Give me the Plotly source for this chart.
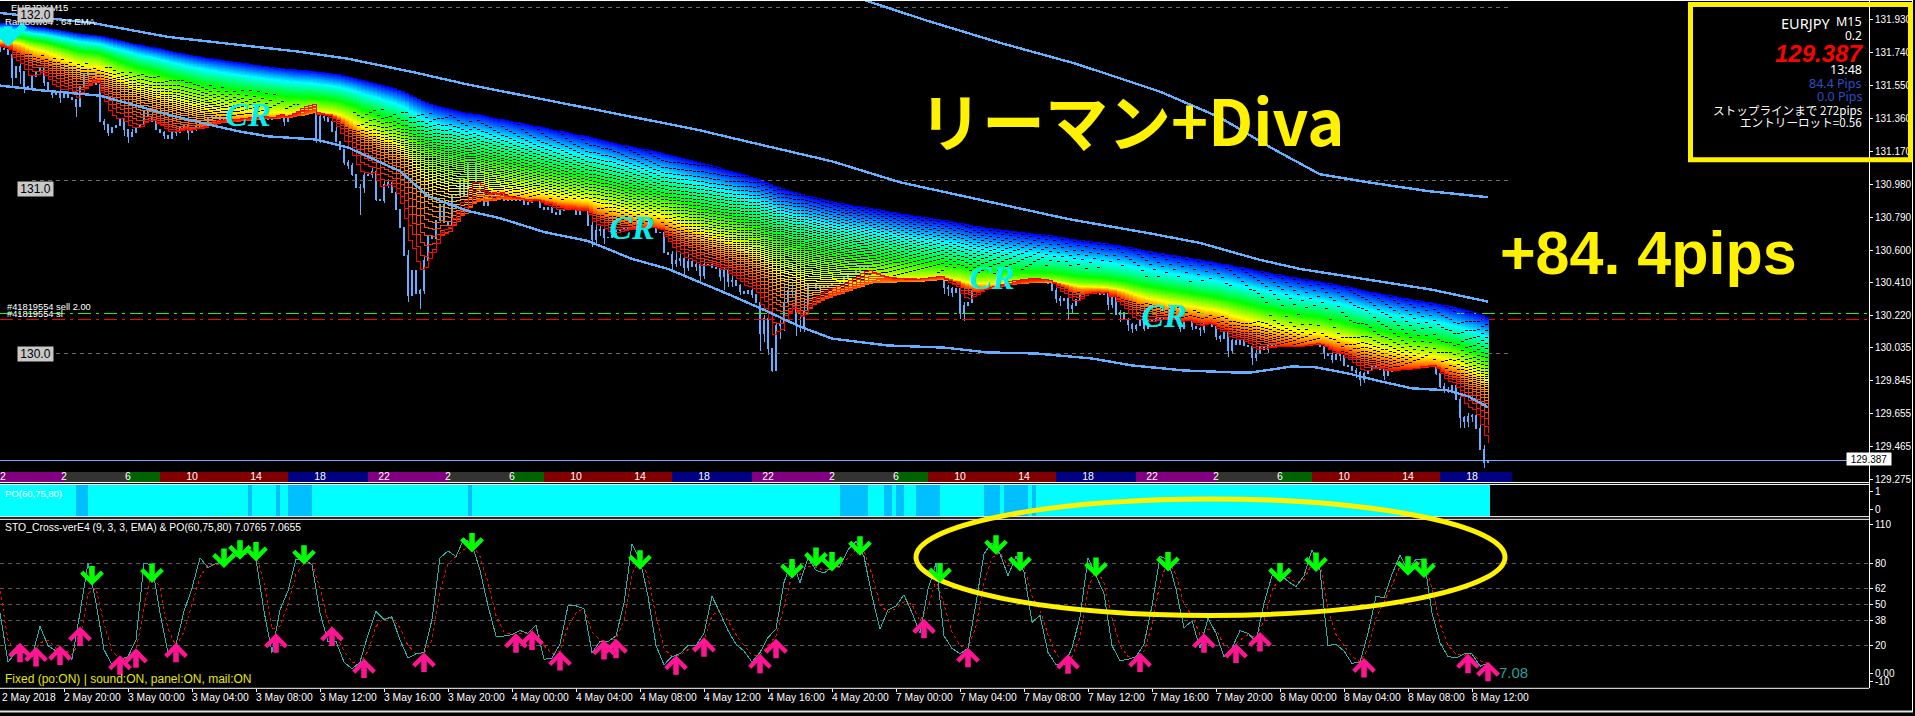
import plotly.graph_objects as go
import colorsys

# ---- values ----
close = [
131.765,131.755,131.727,131.593,131.660,131.631,131.545,131.535,131.599,131.631,131.650,131.564,131.522,131.497,131.516,131.478,
131.516,131.478,131.468,131.430,131.545,131.612,131.641,131.641,131.554,131.344,131.325,131.277,131.305,131.319,131.353,131.296,
131.258,131.277,131.305,131.325,131.401,131.372,131.344,131.296,131.277,131.261,131.242,131.277,131.281,131.305,131.319,131.277,
131.305,131.315,131.319,131.325,131.363,131.372,131.369,131.353,131.363,131.353,131.353,131.363,131.363,131.369,131.369,131.372,
131.372,131.369,131.369,131.353,131.372,131.392,131.401,131.344,131.392,131.411,131.440,131.449,131.459,131.459,131.449,131.238,
131.372,131.363,131.344,131.286,131.229,131.181,131.108,131.085,131.037,130.961,130.961,131.028,131.037,131.051,130.894,130.884,
130.980,130.989,130.932,130.836,130.731,130.568,130.338,130.482,130.348,130.367,130.539,130.683,130.664,130.769,130.865,130.760,
130.750,130.913,130.913,131.009,130.913,131.104,131.104,130.989,130.932,130.855,130.894,130.941,130.913,130.941,130.884,130.884,
130.884,130.894,130.884,130.865,130.874,130.894,130.884,130.846,130.836,130.846,130.817,130.807,130.827,130.836,130.840,130.836,
130.807,130.832,130.836,130.744,130.658,130.712,130.721,130.673,130.673,130.683,130.712,130.721,130.725,130.731,130.721,130.731,
130.731,130.737,130.731,130.731,130.702,130.702,130.583,130.577,130.520,130.539,130.549,130.500,130.533,130.507,130.514,130.453,
130.514,130.514,130.500,130.495,130.449,130.482,130.418,130.424,130.396,130.361,130.348,130.367,130.344,130.300,130.118,130.204,
130.032,129.907,130.166,130.175,130.300,130.367,130.367,130.166,130.156,130.252,130.405,130.405,130.376,130.396,130.386,130.396,
130.405,130.405,130.415,130.443,130.463,130.463,130.482,130.500,130.510,130.491,130.453,130.443,130.434,130.424,130.424,130.424,
130.434,130.430,130.424,130.428,130.434,130.424,130.443,130.443,130.453,130.453,130.457,130.453,130.386,130.376,130.357,130.376,
130.233,130.281,130.300,130.367,130.376,130.396,130.405,130.405,130.409,130.415,130.415,130.424,130.434,130.438,130.438,130.438,
130.438,130.438,130.438,130.438,130.415,130.438,130.405,130.367,130.323,130.309,130.319,130.261,130.277,130.313,130.342,130.376,
130.376,130.367,130.363,130.342,130.357,130.284,130.328,130.227,130.242,130.200,130.170,130.150,130.162,130.198,130.150,130.194,
130.194,130.204,130.204,130.204,130.204,130.204,130.204,130.146,130.204,130.204,130.156,130.146,130.143,130.181,130.185,130.156,
130.099,130.089,130.127,130.022,130.079,130.055,130.079,130.047,130.041,129.978,130.003,130.035,130.028,130.051,130.051,130.041,
130.041,130.041,130.041,130.041,130.047,130.051,130.055,130.070,130.066,130.070,130.041,130.003,129.993,129.970,129.997,129.989,
129.932,129.926,129.907,129.894,129.855,129.888,129.907,129.936,129.917,129.913,129.878,129.897,129.907,129.917,129.917,129.913,
129.917,129.917,129.932,129.940,129.940,129.936,129.932,129.888,129.811,129.792,129.786,129.817,129.735,129.633,129.610,129.639,
129.644,129.572,129.447,129.371,129.387]

# (bar, upper wick in pips, lower wick in pips)
wicks = [(0,3,2),(3,0,5),(5,5,7),(6,0,4),(11,3,2),(13,0,2),(15,1,3),(19,0,6),(26,1,3),(27,0,2),(31,1,4),(32,0,4),(33,2,0),
(38,2,0),(41,1,2),(44,0,2),(47,0,4),(49,2,2),(53,1,3),(55,0,2),(69,2,0),(71,0,3),(72,1,0),(79,0,2),(80,1,2),(81,1,2),(84,3,0),
(86,0,2),(87,1,2),(88,2,1),(90,2,16),(91,2,3),(93,2,2),(94,3,1),(96,2,1),(97,2,2),(102,3,4),(105,1,9),(106,2,2),
(148,2,4),(149,3,3),(150,2,3),(151,2,4),(168,2,3),(169,5,2),(170,4,3),(171,2,5),(172,4,2),(174,3,3),(175,1,5),(176,4,2),
(180,2,3),(181,2,8),(182,2,3),(183,3,3),(185,1,2),(188,1,2),(190,15,10),(191,2,5),(192,1,4),(193,0,1),(194,2,0),(195,2,8),
(196,10,4),(197,7,2),(198,4,4),(199,8,6),(200,5,3),(201,6,3),(236,2,4),(237,1,4),(238,1,3),(240,2,3),(241,2,4),
(264,2,3),(265,1,3),(267,1,6),(268,2,3),(277,1,3),(278,2,2),(280,1,4),(282,1,4),(283,1,3),(284,1,2),(286,1,2),(295,1,2),(298,1,2),
(300,1,4),(301,2,2),(304,2,2),(305,1,2),(307,1,4),(308,1,2),(313,1,4),(314,2,2),(317,1,2),(331,1,3),(333,2,2),(335,2,3),(339,1,3),
(340,1,4),(341,1,2),(346,1,3),(359,1,1),(360,2,1),(361,2,2),(362,2,1),(364,3,0),(365,2,6),(366,1,4),(367,2,3),(368,1,3),(370,3,0),(371,3,3)]

ema_seed = [131.91, 131.78]
ema_periods = list(range(6, 198, 3))

upper_bars = [0,23,42,58,75,87,104,117,127,174,192,208,225,242,252,267,287,300,315,325,344,358,372]
upper_vals = [131.968,131.911,131.830,131.790,131.744,131.704,131.623,131.555,131.509,131.296,131.198,131.112,130.991,130.905,130.853,130.779,130.698,130.641,130.543,130.491,130.422,130.371,130.302]
lower_bars = [0,11,22,25,33,42,52,60,67,79,87,100,107,117,125,136,147,158,167,183,192,200,208,222,236,247,259,273,283,296,308,313,323,329,337,344,353,362,367,372]
lower_vals = [131.549,131.520,131.497,131.491,131.440,131.382,131.325,131.284,131.256,131.238,131.192,131.055,130.911,130.825,130.784,130.704,130.652,130.549,130.491,130.336,130.244,130.158,130.089,130.049,130.037,130.009,130.003,129.974,129.934,129.905,129.894,129.894,129.928,129.923,129.888,129.848,129.802,129.790,129.756,129.693]
third_bars = [216,232,250,269,290,305,318,330,342,357,372]
third_vals = [132.043,131.922,131.796,131.675,131.514,131.365,131.187,131.037,130.991,130.940,130.905]

round_levels = [132.0, 131.0, 130.0]
buy_level = 130.233
stop_level = 130.198
last_price = 129.387

price_ticks = [131.93,131.74,131.55,131.36,131.17,130.98,130.79,130.60,130.41,130.22,130.035,129.845,129.655,129.465,129.275]

time_bars = [0,16,32,48,64,80,96,112,128,144,160,176,192,208,224,240,256,272,288,304,320,336,352,368]
time_labels = ["2 May 2018","2 May 20:00","3 May 00:00","3 May 04:00","3 May 08:00","3 May 12:00","3 May 16:00","3 May 20:00",
"4 May 00:00","4 May 04:00","4 May 08:00","4 May 12:00","4 May 16:00","4 May 20:00","7 May 00:00","7 May 04:00","7 May 08:00",
"7 May 12:00","7 May 16:00","7 May 20:00","8 May 00:00","8 May 04:00","8 May 08:00","8 May 12:00"]

session_start = [0,16,32,40,72,92,112,128,136,168,188,208,224,232,264,284,304,320,328,360]
session_end   = [16,32,40,72,92,112,128,136,168,188,208,224,232,264,284,304,320,328,360,378]
session_color = ["#800080","#333333","#006400","#800000","#000080"]*4
hour_labels = ["22","2","6","10","14","18","22","2","6","10","14","18","22","2","6","10","14","18","22","2","6","10","14","18"]

po_blue_start = [19,62,69,72,117,210,221,224,229,246,251,258]
po_blue_end   = [22,63,70,78,118,217,223,226,235,250,257,259]
po_last_bar = 372

sto_main = [44,8,15,15,12,34,20,16,16,10,44,80,51,17,6,10,12,24,80,79,44,15,21,45,62,84,77,80,81,87,84,90,83,45,15,46,60,83,83,79,44,23,23,8,3,8,28,45,39,41,24,11,14,15,39,84,89,85,98,94,75,49,27,27,
28,31,29,35,10,11,21,49,49,47,15,23,23,27,51,94,83,56,20,6,12,14,20,20,29,56,44,31,21,16,8,15,26,32,66,83,66,84,75,73,77,78,90,96,85,56,32,46,49,57,44,29,61,80,27,18,14,18,51,87,95,87,
71,85,74,37,42,15,6,6,18,41,84,71,58,20,9,10,12,21,49,85,83,61,33,38,18,40,29,12,18,31,29,23,51,71,72,67,63,71,90,75,20,21,16,7,8,29,56,55,72,86,75,83,83,44,22,12,11,14,14,5,7]
sto_signal = [60,24,14,15,14,22,24,18,17,13,24,58,62,36,16,10,11,16,48,74,62,32,20,30,50,70,79,79,80,84,85,87,87,66,32,34,50,72,80,80,62,38,28,16,8,7,16,34,40,40,33,20,14,14,24,60,80,85,90,94,85,66,42,30,
28,29,29,32,20,14,16,34,44,47,30,24,23,25,38,72,84,70,42,18,12,13,17,19,24,42,46,38,28,20,13,13,20,27,48,72,72,78,77,75,76,77,84,90,89,72,50,44,47,52,50,38,48,68,50,30,20,18,34,66,84,88,
78,80,78,56,46,28,14,8,12,26,62,76,66,40,20,12,11,16,34,66,82,72,50,42,28,32,32,20,18,24,28,26,38,60,70,70,66,68,80,82,46,28,20,12,8,18,40,52,64,78,80,80,82,62,36,20,14,13,14,9,7]
sto_levels = [80,62,50,38,20]
sto_ticks = [108,80,62,50,38,20,0,-6]
sto_tick_text = ["110","80","62","50","38","20","0.00","-10"]

up_bars = [5,9,15,20,30,34,44,69,83,91,106,129,133,140,151,154,169,176,190,194,231,242,267,285,301,309,315,341,367,372]
up_vals = [22,19,20,34,13,18,22,29,34,10.5,15,29,31,16,24,25,13,26,14,25,39.5,18.5,13.6,15,29,21.6,30,11,14,8.3]
down_bars = [23,38,56,60,64,76,118,160,198,204,208,215,235,249,255,274,292,320,329,352,356]
down_vals = [63.8,65.7,76.6,82.6,81.4,79,88,75.4,68.9,77.3,74,85.6,66,86.3,74,70,74,66,73.7,71,69.3]

logo_bars = [62,158,248,291]
logo_vals = [131.365,130.715,130.425,130.205]

# ---- canvas ----
W, H = 1915, 716
PLOT_R = 1869
BAR_PX = 4.0
main_top, main_bot = 1.0, 484.0
po_top, po_bot = 486.5, 518.5
sto_top, sto_bot = 521.7, 690.7
PRICE_PER_PX = 1/174.0
price_at = lambda y: 132.043 - y*PRICE_PER_PX

def px(x): return x/W
def py(y): return 1-y/H
xlim = [0, PLOT_R/BAR_PX]
BLUE = "#66AEFF"
SMALL = "Liberation Sans"

fig = go.Figure()

# session strip
sess_lo, sess_hi = price_at(484), price_at(474)
fig.add_trace(go.Bar(
    x=[(a+b)/2 for a, b in zip(session_start, session_end)],
    width=[b-a for a, b in zip(session_start, session_end)],
    y=[sess_hi-sess_lo]*len(session_start), base=[sess_lo]*len(session_start),
    marker=dict(color=session_color, line=dict(width=0)), hoverinfo="skip"))
fig.add_trace(go.Scatter(x=time_bars, y=[(sess_hi+sess_lo)/2]*len(time_bars), mode="text", text=hour_labels,
    textfont=dict(color="white", size=10.5, family=SMALL), hoverinfo="skip"))

# round levels / order levels (behind the rainbow)
guide = dict(color="#6a6a6a", width=1, dash="4px,4px")
for lv in round_levels:
    fig.add_trace(go.Scatter(x=[8, 377], y=[lv, lv], mode="lines", line=guide, hoverinfo="skip"))
order_dash = "13px,5px,3px,5px"
fig.add_trace(go.Scatter(x=xlim, y=[buy_level]*2, mode="lines", line=dict(color="#22ee22", width=1, dash=order_dash), hoverinfo="skip"))
fig.add_trace(go.Scatter(x=xlim, y=[stop_level]*2, mode="lines", line=dict(color="#ff0000", width=1, dash=order_dash), hoverinfo="skip"))

# candles (open = previous close)
opens = [close[0]+0.01]+close[:-1]
high = [max(c, o) for c, o in zip(close, opens)]
low = [min(c, o) for c, o in zip(close, opens)]
for b, u, d in wicks:
    high[b] += u*0.01
    low[b] -= d*0.01
fig.add_trace(go.Candlestick(
    x=list(range(len(close))), open=opens, high=high, low=low, close=close,
    increasing=dict(line=dict(color=BLUE, width=1), fillcolor="#000000"),
    decreasing=dict(line=dict(color=BLUE, width=1), fillcolor="#ffffff"),
    whiskerwidth=0, hoverinfo="skip"))

# Rainbow64: the indicator's EMAs of the close series above
for k, p in reversed(list(enumerate(ema_periods))):
    a = 2/(p+1)
    frac = k/(len(ema_periods)-1)
    v = ema_seed[1] + (ema_seed[0]-ema_seed[1])*frac
    ys = []
    for c in close:
        v = v + a*(c-v)
        ys.append(v)
    r, g, b = colorsys.hsv_to_rgb(frac**0.92*240/360, 1, 1)
    fig.add_trace(go.Scatter(x=list(range(len(close))), y=ys, mode="lines",
        line=dict(color=f"rgb({int(r*255)},{int(g*255)},{int(b*255)})", width=1, shape="hv"), hoverinfo="skip"))

# envelopes
for bx, vy in ((upper_bars, upper_vals), (lower_bars, lower_vals), (third_bars, third_vals)):
    fig.add_trace(go.Scatter(x=bx, y=vy, mode="lines", line=dict(color=BLUE, width=2.4), hoverinfo="skip"))

fig.add_trace(go.Scatter(x=xlim, y=[last_price]*2, mode="lines", line=dict(color=BLUE, width=1), hoverinfo="skip"))

fig.add_trace(go.Scatter(x=logo_bars, y=logo_vals, mode="text", text=["CR"]*len(logo_bars),
    textfont=dict(color="#00f0f0", size=34, family="Liberation Serif", style="italic", weight="bold"), hoverinfo="skip"))

# PO strip
po_range = [-0.37, 1.37]
po_span = po_range[1]-po_range[0]
fig.add_trace(go.Bar(x=[po_last_bar/2+0.25], width=[po_last_bar+0.5], y=[po_span], base=[po_range[0]],
    marker=dict(color="#00FFFF", line=dict(width=0)), yaxis="y2", hoverinfo="skip"))
fig.add_trace(go.Bar(x=[(a+b)/2 for a, b in zip(po_blue_start, po_blue_end)], width=[b-a for a, b in zip(po_blue_start, po_blue_end)],
    y=[po_span]*len(po_blue_start), base=[po_range[0]]*len(po_blue_start),
    marker=dict(color="#00BFFF", line=dict(width=0)), yaxis="y2", hoverinfo="skip"))

# STO panel
sto_x = list(range(0, 2*len(sto_main), 2))
for lv in sto_levels:
    fig.add_trace(go.Scatter(x=xlim, y=[lv, lv], mode="lines", yaxis="y3", line=dict(color="#5a5a5a", width=1, dash="4px,4px"), hoverinfo="skip"))
fig.add_trace(go.Scatter(x=sto_x, y=sto_signal, mode="lines", yaxis="y3", line=dict(color="#ff0000", width=1, dash="3px,3px"), hoverinfo="skip"))
fig.add_trace(go.Scatter(x=sto_x, y=sto_main, mode="lines", yaxis="y3", line=dict(color="#27B3AC", width=1), hoverinfo="skip"))

ann = []
def T(x, y, s, size=10, color="white", anchor="left", family=SMALL, **kw):
    ann.append(dict(x=px(x), y=py(y), xref="paper", yref="paper", text=s, showarrow=False, xanchor=anchor, yanchor="middle",
                    font=dict(size=size, color=color, family=family), **kw))

# arrows on stochastic
for b, v in zip(up_bars, up_vals):
    ann.append(dict(x=b, y=v, xref="x", yref="y3", ax=0, ay=21, axref="pixel", ayref="pixel", text="", showarrow=True,
                    arrowhead=4, arrowwidth=5.5, arrowsize=0.72, arrowcolor="#FF1493"))
for b, v in zip(down_bars, down_vals):
    ann.append(dict(x=b, y=v, xref="x", yref="y3", ax=0, ay=-21, axref="pixel", ayref="pixel", text="", showarrow=True,
                    arrowhead=4, arrowwidth=5.5, arrowsize=0.72, arrowcolor="#00FF00"))
ann.append(dict(x=2, y=price_at(47), xref="x", yref="y", ax=0, ay=-22, text="", showarrow=True, arrowhead=4, arrowwidth=8, arrowsize=0.8, arrowcolor="#00F0F0"))
ann.append(dict(x=373, y=price_at(4), xref="x", yref="y", ax=0, ay=-3, text="", showarrow=True, arrowhead=2, arrowwidth=3, arrowsize=1, arrowcolor="#00C8F0"))

# time labels
for b, s in zip(time_bars, time_labels):
    T(b*BAR_PX-2 if b else 0, 700.5, s, 10.3)

T(70, 8, "EURJPY,M15", 9.5, anchor="right")
T(3, 22, "Rainbow64 : 64 EMA", 9.6)
for lv in round_levels:
    ann.append(dict(x=px(16.5), y=py((132.043-lv)/PRICE_PER_PX), xref="paper", yref="paper", text=f"{lv:.1f}", showarrow=False,
                    bgcolor="#C8C8C8", width=33, height=12, font=dict(size=12, color="black", family=SMALL)))
T(5, 308, "#41819554 sell 2.00", 9.3)
T(5, 315, "#41819554 sl", 9.3)
T(3, 496, "PO(60,75,80)", 9.5)
T(3, 530, "STO_Cross-verE4 (9, 3, 3, EMA) & PO(60,75,80) 7.0765 7.0655", 10.4)
T(3, 682, "Fixed (po:ON) | sound:ON, panel:ON, mail:ON", 12, color="#E6E600")
T(1497, 675, "7.08", 15, color="#27A09A")
ann.append(dict(x=px(1891.5), y=py(461.3), xref="paper", yref="paper", text="129.387", showarrow=False, bgcolor="white", width=42, height=10,
                font=dict(size=10, color="black", family=SMALL)))

# headline texts
T(917, 119, "リーマン+Diva", 63, color="#FFF200", family="Noto Sans CJK JP")
ann[-1]["font"]["weight"] = "bold"
T(1498, 254, "+84. 4pips", 61, color="#FFF200", family=SMALL)
ann[-1]["font"]["weight"] = "bold"

# info panel
jp = "Noto Sans CJK JP, Noto Sans"
T(1832, 23, "EURJPY", 14.5, anchor="right", family="Noto Sans")
T(1864, 22, "M15", 12.5, anchor="right", family="Noto Sans")
T(1864, 36, "0.2", 12, anchor="right", family="Noto Sans")
T(1865, 54, "<b><i>129.387</i></b>", 24, color="#FF0000", anchor="right", family="Liberation Sans")
T(1864, 70, "13:48", 12.5, anchor="right", family="Noto Sans")
T(1864, 84, "84.4 Pips", 12.5, color="#2A4FC8", anchor="right", family="Noto Sans")
T(1864, 97, "0.0 Pips", 12.5, color="#2A4FC8", anchor="right", family="Noto Sans")
T(1864, 110, "ストップラインまで 272pips", 11.6, anchor="right", family=jp)
T(1864, 123, "エントリーロット=0.56", 11.6, anchor="right", family=jp)

def hline(y, x0=0, x1=PLOT_R, color="white", w=1):
    return dict(type="line", xref="paper", yref="paper", x0=px(x0), x1=px(x1), y0=py(y), y1=py(y), line=dict(color=color, width=w))
def vline(x, y0=0, y1=H, color="white", w=1):
    return dict(type="line", xref="paper", yref="paper", x0=px(x), x1=px(x), y0=py(y0), y1=py(y1), line=dict(color=color, width=w))

shapes = [hline(0.5, 0, 1913), hline(484.5), hline(486.5), hline(518.8), hline(521.5), hline(691.2),
          vline(1869.5, 0, 691), vline(1912.5, 0, 714), hline(714.5, 0, 1913, "#e0e0e0", 2)]
shapes.append(dict(type="rect", xref="paper", yref="paper", x0=px(1690.5), x1=px(1910.5), y0=py(4.5), y1=py(160.5),
                   line=dict(color="#FFF200", width=5), fillcolor="rgba(0,0,0,0)"))
shapes.append(dict(type="circle", xref="paper", yref="paper", x0=px(916), x1=px(1505), y0=py(501), y1=py(618),
                   line=dict(color="#FFF200", width=5), fillcolor="rgba(0,0,0,0)"))

axis_font = dict(size=10, color="white", family=SMALL)
dom_x = [0, PLOT_R/W]
fig.update_layout(
    width=W, height=H, margin=dict(l=0, r=0, t=0, b=0), paper_bgcolor="black", plot_bgcolor="black",
    showlegend=False, barmode="overlay", hovermode=False, annotations=ann, shapes=shapes,
    xaxis=dict(domain=dom_x, range=xlim, type="linear", anchor="y3", showgrid=False, zeroline=False, showline=False,
               tickmode="array", tickvals=time_bars[1:], ticktext=[""]*(len(time_bars)-1), ticks="outside", ticklen=3, tickcolor="white",
               rangeslider=dict(visible=False)),
    yaxis=dict(domain=[py(main_bot), py(main_top)], range=[price_at(main_bot), price_at(main_top)], side="right", anchor="x",
               showgrid=False, zeroline=False, tickmode="array", tickvals=price_ticks, ticktext=[f"{v:.3f}" for v in price_ticks],
               ticks="outside", ticklen=3, tickcolor="white", tickfont=axis_font),
    yaxis2=dict(domain=[py(po_bot), py(po_top)], range=po_range, side="right", anchor="x", showgrid=False, zeroline=False,
                tickmode="array", tickvals=[1, 0], ticktext=["1", "0"], ticks="outside", ticklen=3, tickcolor="white", tickfont=axis_font),
    yaxis3=dict(domain=[py(sto_bot), py(sto_top)], range=[-10.8, 112], side="right", anchor="x", showgrid=False, zeroline=False,
                tickmode="array", tickvals=sto_ticks, ticktext=sto_tick_text, ticks="outside", ticklen=3, tickcolor="white", tickfont=axis_font),
)
crisp = ("document.body.style.margin='0';document.body.style.overflow='hidden';"
         "document.querySelectorAll('.scatterlayer .js-line, .boxlayer path').forEach(function(p){p.style.shapeRendering='crispEdges';});")
fig.write_html("out.html", config={"displayModeBar": False}, post_script=crisp)
